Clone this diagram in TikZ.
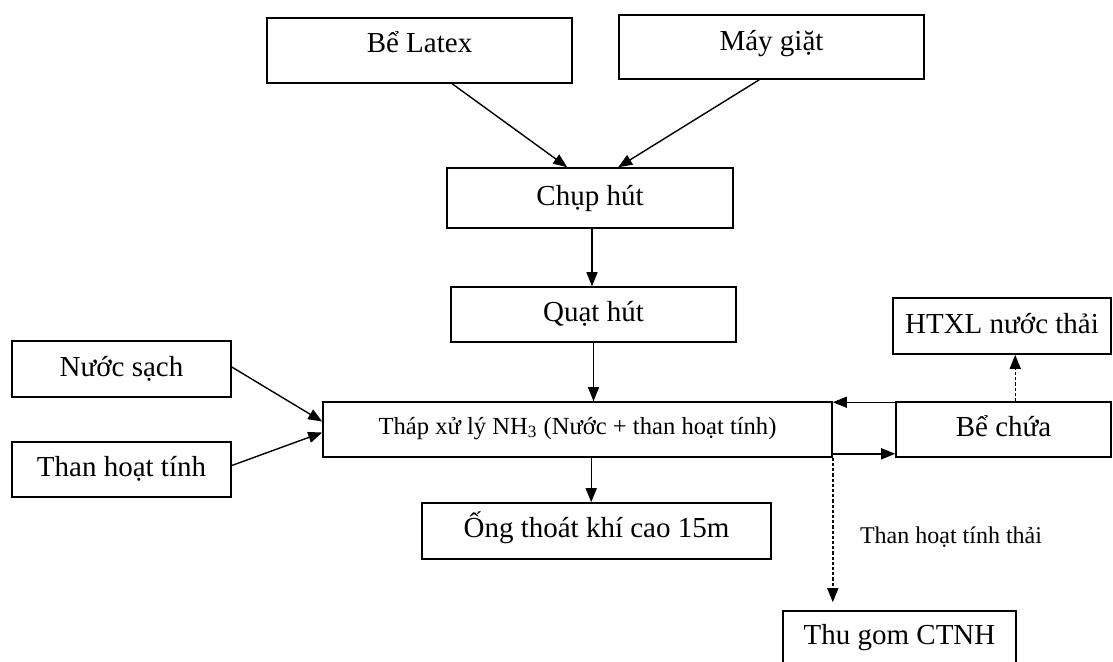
\documentclass[tikz,border=0pt]{standalone}
\usepackage{fontspec}
\setmainfont{Liberation Serif}
\usetikzlibrary{arrows.meta,calc}

\begin{document}
\begin{tikzpicture}[x=0.5pt,y=-0.5pt,
  box/.style={draw, line width=0.8pt, inner sep=0pt, align=center,
    text height=10pt, text depth=3pt,
    font=\fontsize{14.5}{17}\selectfont},
  flow/.style={line width=0.7pt, -{Triangle[length=7pt,width=5.5pt]}},
  dflow/.style={flow, dash pattern=on 1.6pt off 1pt},
  note/.style={font=\fontsize{12}{14}\selectfont}]

\clip (0,0) rectangle (1113,661);

% sources
\node[box, minimum width=152.5pt, minimum height=32.5pt,
  text height=8pt, text depth=6pt] (latex) at (419.5,50.5) {Bể Latex};
\node[box, minimum width=152.5pt, minimum height=32pt,
  text height=8.5pt, text depth=5.5pt] (may) at (771.5,47) {Máy giặt};

% extraction line
\node[box, minimum width=143pt, minimum height=30pt] (chup) at (590,198) {Chụp hút};
\node[box, minimum width=142.5pt, minimum height=27.5pt] (quat) at (593.5,314.5) {Quạt hút};

% inputs to the tower
\node[box, minimum width=109.5pt, minimum height=28pt] (nuoc) at (121.5,369) {Nước sạch};
\node[box, minimum width=109.5pt, minimum height=27.5pt] (than) at (121.5,469.5) {Than hoạt tính};

% treatment tower
\node[box, minimum width=254.5pt, minimum height=27.5pt,
  text height=8pt, text depth=3.5pt,
  font=\fontsize{12.3}{14}\selectfont] (thap) at (577.5,429.5)
  {Tháp xử lý NH\textsubscript{3} (Nước + than hoạt tính)};

% outputs
\node[box, minimum width=109pt, minimum height=28pt] (htxl) at (1002,326) {HTXL nước thải};
\node[box, minimum width=107.5pt, minimum height=27.5pt] (becua) at (1003.5,429.5) {Bể chứa};
\node[box, minimum width=174.5pt, minimum height=28pt,
  text height=9.5pt, text depth=3.5pt] (ong) at (596.5,531) {Ống thoát khí cao 15m};
\node[box, minimum width=116.5pt, minimum height=28pt,
  text height=9pt, text depth=3.5pt] (thugom) at (899.5,639) {Thu gom CTNH};

\node[note] (lbl) at (951,537) {Than hoạt tính thải};

% attachment points on the box borders
\coordinate (cq) at ($(chup.south)+(2,0)$);
\coordinate (to) at ($(thap.south west)+(269,0)$);
\coordinate (bh) at ($(becua.north west)+(120,0)$);

% connectors
\draw[flow] ($(latex.south west)+(186,0)$) -- ($(chup.north west)+(121,0)$);
\draw[flow] ($(may.south west)+(141,0)$) -- ($(chup.north west)+(172,0)$);
\draw[flow] (cq) -- (cq |- quat.north);
\draw[flow] (quat.south) -- (quat.south |- thap.north);
\draw[flow] ($(nuoc.east)+(0,-2)$) -- ($(thap.west)+(0,-8)$);
\draw[flow] ($(than.east)+(0,-4)$) -- ($(thap.west)+(0,3)$);
\draw[flow] (to) -- (to |- ong.north);
\draw[flow] ($(becua.north west)+(0,1)$) -- ($(thap.north east)+(0,1)$);
\draw[flow] ($(thap.south east)+(0,-4)$) -- ($(becua.south west)+(0,-4)$);
\draw[dflow] (bh) -- (bh |- htxl.south);
\draw[dflow, shorten >=4pt] (thap.south east) -- (thap.south east |- thugom.north);
\end{tikzpicture}
\end{document}
